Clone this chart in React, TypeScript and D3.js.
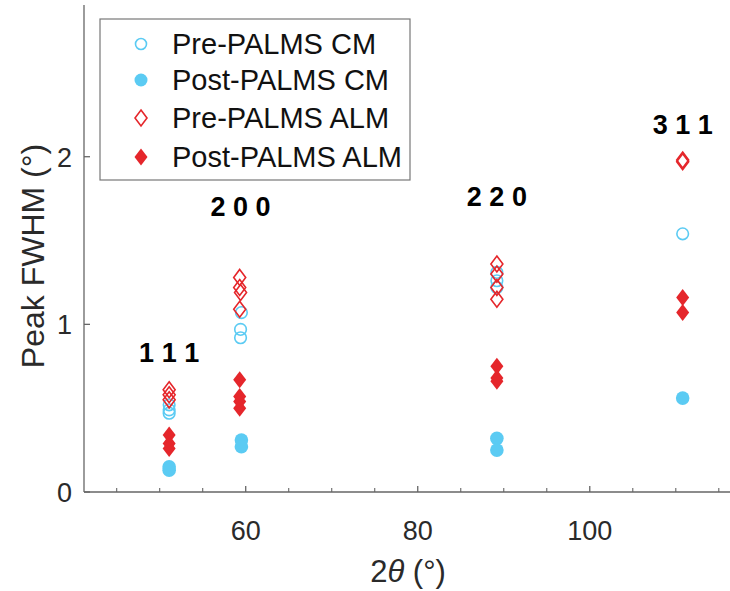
import React from "react";
import * as d3 from "d3";

const W = 730, H = 591;
const CYAN = "#5BCBF3";
const RED = "#E5262B";

const peakLabels = ["1 1 1", "2 0 0", "2 2 0", "3 1 1"];
const peakX = [51.1, 59.4, 89.2, 110.8];
const peakLabelY = [0.776, 1.647, 1.706, 2.136];

const preCM_x = [51.1, 51.1, 51.1, 59.5, 59.4, 59.4, 89.2, 89.2, 89.2, 110.8];
const preCM_y = [0.52, 0.49, 0.47, 1.07, 0.97, 0.92, 1.31, 1.26, 1.22, 1.54];
const postCM_x = [51.1, 51.1, 59.5, 59.5, 89.2, 89.2, 110.8];
const postCM_y = [0.15, 0.13, 0.31, 0.27, 0.32, 0.25, 0.56];
const preALM_x = [51.1, 51.1, 51.1, 59.3, 59.3, 59.4, 59.3, 89.2, 89.2, 89.2, 89.2, 110.8, 110.8];
const preALM_y = [0.61, 0.58, 0.55, 1.28, 1.22, 1.19, 1.09, 1.36, 1.30, 1.22, 1.15, 1.98, 1.97];
const postALM_x = [51.1, 51.1, 51.1, 59.3, 59.3, 59.3, 59.3, 89.2, 89.2, 89.2, 110.8, 110.8];
const postALM_y = [0.34, 0.29, 0.26, 0.67, 0.57, 0.54, 0.50, 0.75, 0.68, 0.66, 1.16, 1.07];

const legendLabels = ["Pre-PALMS CM", "Post-PALMS CM", "Pre-PALMS ALM", "Post-PALMS ALM"];

const xMajor = [60, 80, 100];
const xMinor = [45, 50, 55, 65, 70, 75, 85, 90, 95, 105, 110, 115];
const yTicks = [0, 1, 2];

const FONT = "'Liberation Sans', Arial, sans-serif";

function diamond(cx: number, cy: number, hw = 6, hh = 8) {
  return `M${cx},${cy - hh}L${cx + hw},${cy}L${cx},${cy + hh}L${cx - hw},${cy}Z`;
}

export default function App() {
  const x = d3.scaleLinear().domain([41.2, 117]).range([84, 736]);
  const y = d3.scaleLinear().domain([0, 2.905]).range([492, 5]);
  const x0 = 84, y0 = 492;
  const axisColor = "#666";
  const textColor = "#2a2a2a";

  const legendY = [44, 80, 118, 157];

  return (
    <svg width={W} height={H} style={{ position: "absolute", left: 0, top: 0, background: "#fff" }}>
      {/* axes */}
      <line x1={x0} x2={x0} y1={y(2.905)} y2={y0} stroke={axisColor} strokeWidth={1.3} />
      <line x1={x0} x2={W} y1={y0} y2={y0} stroke={axisColor} strokeWidth={1.3} />
      {xMajor.map((t) => (
        <line key={"xm" + t} x1={x(t)} x2={x(t)} y1={y0} y2={y0 - 6} stroke={axisColor} strokeWidth={1.3} />
      ))}
      {xMinor.map((t) => (
        <line key={"xn" + t} x1={x(t)} x2={x(t)} y1={y0} y2={y0 - 4} stroke={axisColor} strokeWidth={1.1} />
      ))}
      {yTicks.map((t) => (
        <line key={"yt" + t} x1={x0} x2={x0 + 6} y1={y(t)} y2={y(t)} stroke={axisColor} strokeWidth={1.3} />
      ))}
      {xMajor.map((t) => (
        <text key={"xl" + t} x={x(t)} y={y0 + 48} fontSize={27} textAnchor="middle" fill={textColor} fontFamily={FONT}>{t}</text>
      ))}
      {yTicks.map((t) => (
        <text key={"yl" + t} x={x0 - 12} y={y(t) + 10} fontSize={27} textAnchor="end" fill={textColor} fontFamily={FONT}>{t}</text>
      ))}
      <text x={408} y={582} fontSize={31} textAnchor="middle" fill={textColor} fontFamily={FONT}>
        <tspan>2</tspan>
        <tspan fontStyle="italic">θ</tspan>
        <tspan> (°)</tspan>
      </text>
      <text transform="translate(44,256) rotate(-90)" fontSize={32} textAnchor="middle" fill={textColor} fontFamily={FONT}>
        Peak FWHM (°)
      </text>

      {/* peak labels */}
      {peakLabels.map((l, i) => (
        <text key={l} x={x(peakX[i])} y={y(peakLabelY[i])} fontSize={27} fontWeight="bold" textAnchor="middle" fill="#000" fontFamily={FONT}>{l}</text>
      ))}

      {/* data */}
      {preCM_x.map((v, i) => (
        <circle key={"pc" + i} cx={x(v)} cy={y(preCM_y[i])} r={5.8} fill="none" stroke={CYAN} strokeWidth={1.6} />
      ))}
      {postCM_x.map((v, i) => (
        <circle key={"qc" + i} cx={x(v)} cy={y(postCM_y[i])} r={6.8} fill={CYAN} />
      ))}
      {preALM_x.map((v, i) => (
        <path key={"pa" + i} d={diamond(x(v), y(preALM_y[i]))} fill="none" stroke={RED} strokeWidth={1.6} />
      ))}
      {postALM_x.map((v, i) => (
        <path key={"qa" + i} d={diamond(x(v), y(postALM_y[i]), 6.5, 8.5)} fill={RED} />
      ))}

      {/* legend */}
      <rect x={100} y={19} width={310} height={161} fill="#fff" stroke="#777" strokeWidth={1.2} />
      <circle cx={141} cy={legendY[0]} r={5.5} fill="none" stroke={CYAN} strokeWidth={1.6} />
      <circle cx={141} cy={legendY[1]} r={6.5} fill={CYAN} />
      <path d={diamond(141, legendY[2])} fill="none" stroke={RED} strokeWidth={1.6} />
      <path d={diamond(141, legendY[3], 6.5, 8.5)} fill={RED} />
      {legendLabels.map((l, i) => (
        <text key={l} x={172} y={legendY[i] + 10} fontSize={29} textAnchor="start" fill="#111" fontFamily={FONT}>{l}</text>
      ))}
    </svg>
  );
}
